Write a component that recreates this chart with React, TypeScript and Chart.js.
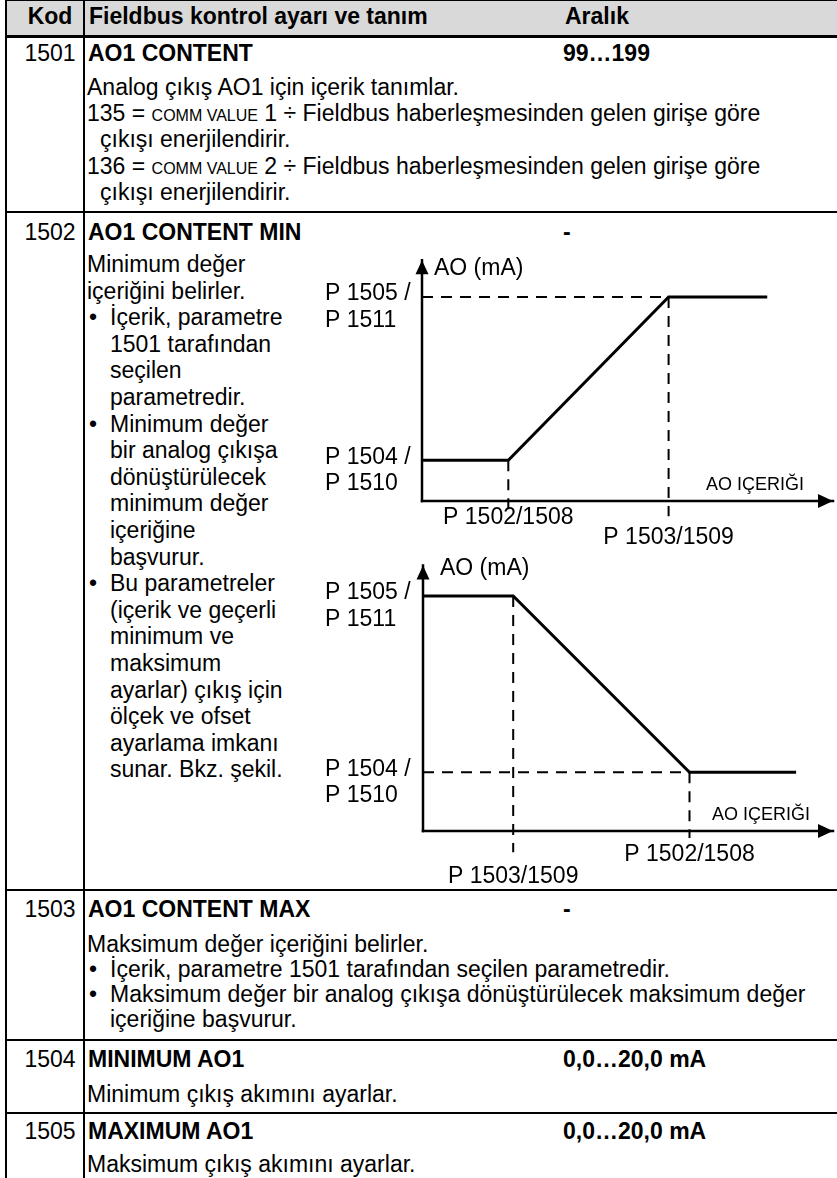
import React, { useEffect, useRef } from "react";
import { Chart, registerables } from "chart.js";

Chart.register(...registerables);

const FONT = '"Liberation Sans", Arial, Helvetica, sans-serif';

// ---------------- table content ----------------
const headerLabels = ["Kod", "Fieldbus kontrol ayarı ve tanım", "Aralık"];
const paramCodes = ["1501", "1502", "1503", "1504", "1505"];
const paramNames = ["AO1 CONTENT", "AO1 CONTENT MIN", "AO1 CONTENT MAX", "MINIMUM AO1", "MAXIMUM AO1"];
const paramRanges = ["99…199", "-", "-", "0,0…20,0 mA", "0,0…20,0 mA"];

// line kinds: p = plain, b = bullet, c = bullet continuation, h = hanging continuation
const desc1501 = [
  ["p", "Analog çıkış AO1 için içerik tanımlar."],
  ["p", "135 = {COMM VALUE} 1 ÷ Fieldbus haberleşmesinden gelen girişe göre"],
  ["h", "çıkışı enerjilendirir."],
  ["p", "136 = {COMM VALUE} 2 ÷ Fieldbus haberleşmesinden gelen girişe göre"],
  ["h", "çıkışı enerjilendirir."],
];
const desc1502 = [
  ["p", "Minimum değer"],
  ["p", "içeriğini belirler."],
  ["b", "İçerik, parametre"],
  ["c", "1501 tarafından"],
  ["c", "seçilen"],
  ["c", "parametredir."],
  ["b", "Minimum değer"],
  ["c", "bir analog çıkışa"],
  ["c", "dönüştürülecek"],
  ["c", "minimum değer"],
  ["c", "içeriğine"],
  ["c", "başvurur."],
  ["b", "Bu parametreler"],
  ["c", "(içerik ve geçerli"],
  ["c", "minimum ve"],
  ["c", "maksimum"],
  ["c", "ayarlar) çıkış için"],
  ["c", "ölçek ve ofset"],
  ["c", "ayarlama imkanı"],
  ["c", "sunar. Bkz. şekil."],
];
const desc1503 = [
  ["p", "Maksimum değer içeriğini belirler."],
  ["b", "İçerik, parametre 1501 tarafından seçilen parametredir."],
  ["b", "Maksimum değer bir analog çıkışa dönüştürülecek maksimum değer"],
  ["c", "içeriğine başvurur."],
];
const desc1504 = [["p", "Minimum çıkış akımını ayarlar."]];
const desc1505 = [["p", "Maksimum çıkış akımını ayarlar."]];
const paramDescs = [desc1501, desc1502, desc1503, desc1504, desc1505];

// ---------------- chart data ----------------
const axisTitleY = "AO (mA)";
const axisTitleX = "AO IÇERIĞI";

// chart 1: rising characteristic
const incContent = [0, 21, 60, 84];
const incCurrent = [4, 4, 20, 20];
const incXTickValues = [21, 60];
const incXTickLabels = ["P 1502/1508", "P 1503/1509"];
const incYTickValues = [4, 20];
const incYTickLabels = [["P 1504 /", "P 1510"], ["P 1505 /", "P 1511"]];
const incGuideEnds = [-1.5, -1.5];
const incAxisMax = [100, 23.6];

// chart 2: falling characteristic
const decContent = [0, 22, 65, 91];
const decCurrent = [20, 20, 5, 5];
const decXTickValues = [22, 65];
const decXTickLabels = ["P 1503/1509", "P 1502/1508"];
const decYTickValues = [5, 20];
const decYTickLabels = [["P 1504 /", "P 1510"], ["P 1505 /", "P 1511"]];
const decGuideEnds = [-1.8, -0.6];
const decAxisMax = [100, 22.6];

// ---------------- layout / style ----------------
const titleCY = [53, 232, 909, 1059, 1131];
const descCY = [87, 264, 944, 1094, 1164];
const descStep = [26.2, 26.6, 25, 26, 26];
const rowLines = [212, 890, 1040, 1113];

const incGeom = {
  left: 300, top: 245, width: 537, height: 310,
  originX: 422, originY: 501, pxPerX: 4.11, pxPerY: 10.2,
  yLabelX: 325, xLabelDy: [17, 37], yTitleDx: 12, yTitleDy: 8, xTitleRight: 804,
};
const decGeom = {
  left: 300, top: 555, width: 537, height: 335,
  originX: 423, originY: 831, pxPerX: 4.1, pxPerY: 11.75,
  yLabelX: 325, xLabelDy: [46, 24], yTitleDx: 17, yTitleDy: 3, xTitleRight: 810,
};

function rich(s: string) {
  return s.split(/(\{[^}]*\})/).map((part, i) =>
    part.startsWith("{") ? (
      <span key={i} style={{ fontSize: 16 }}>{part.slice(1, -1)}</span>
    ) : (
      <React.Fragment key={i}>{part}</React.Fragment>
    )
  );
}

function TextLine(props: any) {
  const { x, cy, bold, children, center, width } = props;
  return (
    <div
      style={{
        position: "absolute",
        left: x,
        top: cy - 13,
        height: 26,
        lineHeight: "26px",
        whiteSpace: "nowrap",
        fontWeight: bold ? 700 : 400,
        textAlign: center ? "center" : "left",
        width: width,
      }}
    >
      {children}
    </div>
  );
}

function StepChart(props: any) {
  const { content, current, xTicks, xTickLabels, yTicks, yTickLabels, guideEnds, axisMax, geom } = props;
  const ref = useRef<HTMLCanvasElement>(null);
  useEffect(() => {
    const g = geom;
    const xMin = -(g.originX - g.left) / g.pxPerX;
    const xMax = xMin + g.width / g.pxPerX;
    const yMax = (g.originY - g.top) / g.pxPerY;
    const yMin = yMax - g.height / g.pxPerY;

    const curve = content.map((x: number, i: number) => ({ x, y: current[i] }));
    const y0 = current[0];
    const hGuides = yTicks
      .filter((v: number) => v !== y0)
      .map((v: number) => {
        const i = current.indexOf(v);
        return [{ x: 0, y: v }, { x: content[i], y: v }];
      });
    const vGuides = xTicks.map((xv: number, i: number) => {
      const j = content.indexOf(xv);
      return [{ x: xv, y: current[j] }, { x: xv, y: guideEnds[i] }];
    });
    const dashed = (data: any) => ({
      data, borderColor: "#000", borderWidth: 2, borderDash: [11, 8],
      pointRadius: 0, fill: false, tension: 0,
    });
    const axis = (data: any) => ({
      data, borderColor: "#000", borderWidth: 2.5, borderCapStyle: "square",
      pointRadius: 0, fill: false, tension: 0,
    });
    const datasets: any[] = [
      ...hGuides.map(dashed),
      ...vGuides.map(dashed),
      axis([{ x: 0, y: 0 }, { x: 0, y: axisMax[1] }]),
      axis([{ x: 0, y: 0 }, { x: axisMax[0], y: 0 }]),
      {
        data: curve, borderColor: "#000", borderWidth: 3, pointRadius: 0,
        fill: false, tension: 0, borderJoinStyle: "miter",
      },
    ];

    const decor = {
      id: "decor",
      afterDatasetsDraw(chart: any) {
        const ctx = chart.ctx;
        const xs = chart.scales.x;
        const ys = chart.scales.y;
        const px = (v: number) => xs.getPixelForValue(v);
        const py = (v: number) => ys.getPixelForValue(v);
        ctx.save();
        ctx.fillStyle = "#000";
        const ox = px(0), oy = py(0), tx = px(axisMax[0]), ty = py(axisMax[1]);
        ctx.beginPath();
        ctx.moveTo(ox, ty);
        ctx.lineTo(ox - 6.5, ty + 14);
        ctx.lineTo(ox + 6.5, ty + 14);
        ctx.closePath();
        ctx.fill();
        ctx.beginPath();
        ctx.moveTo(tx, oy);
        ctx.lineTo(tx - 15, oy - 7);
        ctx.lineTo(tx - 15, oy + 7);
        ctx.closePath();
        ctx.fill();

        ctx.font = `23px ${FONT}`;
        ctx.textBaseline = "middle";
        ctx.textAlign = "left";
        yTicks.forEach((v: number, i: number) => {
          yTickLabels[i].forEach((t: string, j: number) => {
            ctx.fillText(t, g.yLabelX - g.left, py(v) - 3 + j * 26.5);
          });
        });
        ctx.textAlign = "center";
        xTicks.forEach((v: number, i: number) => {
          ctx.fillText(xTickLabels[i], px(v), oy + g.xLabelDy[i]);
        });
        ctx.textAlign = "left";
        ctx.fillText(axisTitleY, ox + g.yTitleDx, ty + g.yTitleDy);
        ctx.font = `18px ${FONT}`;
        ctx.textAlign = "right";
        ctx.fillText(axisTitleX, g.xTitleRight - g.left, oy - 16);
        ctx.restore();
      },
    };

    const chart = new Chart(ref.current as HTMLCanvasElement, {
      type: "line",
      data: { datasets },
      options: {
        animation: false,
        responsive: false,
        devicePixelRatio: 1,
        events: [],
        layout: { padding: 0 },
        scales: {
          x: { type: "linear", display: false, min: xMin, max: xMax },
          y: { type: "linear", display: false, min: yMin, max: yMax },
        },
        plugins: { legend: { display: false }, tooltip: { enabled: false } },
      } as any,
      plugins: [decor],
    });
    return () => chart.destroy();
  }, []);
  return (
    <canvas
      ref={ref}
      width={geom.width}
      height={geom.height}
      style={{ position: "absolute", left: geom.left, top: geom.top, width: geom.width, height: geom.height }}
    />
  );
}

function DescLines({ lines, startCY, step }: any) {
  return (
    <>
      {lines.map((ln: any, i: number) => {
        const cy = startCY + i * step;
        const kind = ln[0];
        const text = ln[1];
        if (kind === "b") {
          return (
            <React.Fragment key={i}>
              <TextLine x={89} cy={cy}>•</TextLine>
              <TextLine x={110} cy={cy}>{rich(text)}</TextLine>
            </React.Fragment>
          );
        }
        const x = kind === "c" ? 110 : kind === "h" ? 100 : 87;
        return <TextLine key={i} x={x} cy={cy}>{rich(text)}</TextLine>;
      })}
    </>
  );
}

export default function App() {
  const rule = (style: any, key: string) => (
    <div key={key} style={{ position: "absolute", background: "#000", ...style }} />
  );
  return (
    <div
      style={{
        position: "absolute", left: 0, top: 0, width: 837, height: 1178,
        overflow: "hidden", background: "#fff", fontFamily: FONT, fontSize: 23, color: "#000",
      }}
    >
      <div style={{ position: "absolute", left: 7, top: 1, width: 830, height: 34, background: "#d9d9d9" }} />
      {rule({ left: 5, top: 0, width: 832, height: 1 }, "top")}
      {rule({ left: 5, top: 35, width: 832, height: 3 }, "hdr")}
      {rule({ left: 5, top: 0, width: 2, height: 1178 }, "lb")}
      {rule({ left: 83, top: 0, width: 2, height: 1178 }, "cd")}
      {rowLines.map((y, i) => rule({ left: 5, top: y - 1, width: 832, height: 2 }, "r" + i))}

      <TextLine x={12} width={76} center cy={16} bold>{headerLabels[0]}</TextLine>
      <TextLine x={89} cy={16} bold>{headerLabels[1]}</TextLine>
      <TextLine x={565} cy={16} bold>{headerLabels[2]}</TextLine>

      {paramCodes.map((code, i) => (
        <React.Fragment key={code}>
          <TextLine x={12} width={76} center cy={titleCY[i]}>{code}</TextLine>
          <TextLine x={88} cy={titleCY[i]} bold>{paramNames[i]}</TextLine>
          <TextLine x={563} cy={titleCY[i]} bold>{paramRanges[i]}</TextLine>
          <DescLines lines={paramDescs[i]} startCY={descCY[i]} step={descStep[i]} />
        </React.Fragment>
      ))}

      <StepChart
        content={incContent} current={incCurrent}
        xTicks={incXTickValues} xTickLabels={incXTickLabels}
        yTicks={incYTickValues} yTickLabels={incYTickLabels}
        guideEnds={incGuideEnds} axisMax={incAxisMax} geom={incGeom}
      />
      <StepChart
        content={decContent} current={decCurrent}
        xTicks={decXTickValues} xTickLabels={decXTickLabels}
        yTicks={decYTickValues} yTickLabels={decYTickLabels}
        guideEnds={decGuideEnds} axisMax={decAxisMax} geom={decGeom}
      />
    </div>
  );
}
